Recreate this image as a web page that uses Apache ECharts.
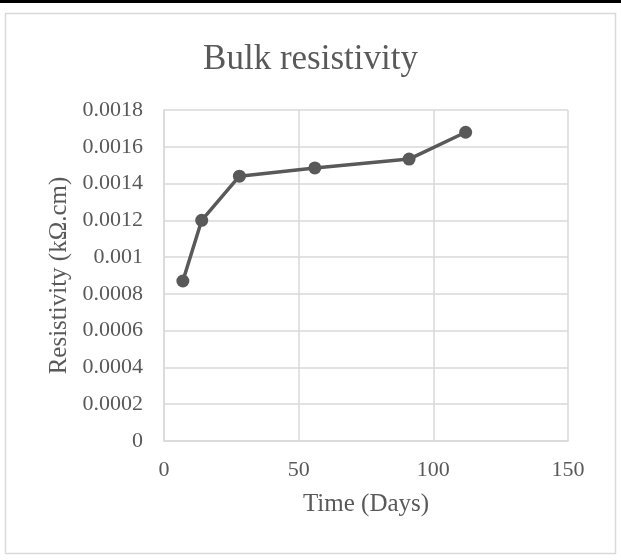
<!DOCTYPE html>
<html>
<head>
<meta charset="utf-8">
<script src="https://cdn.jsdelivr.net/npm/echarts@6/dist/echarts.min.js"></script>
<style>
html,body{margin:0;padding:0;background:#fff;}
#chart{width:621px;height:560px;}
</style>
</head>
<body>
<div id="chart"></div>
<script>
var titleText = 'Bulk resistivity';
var xName = 'Time (Days)';
var yName = 'Resistivity (k\u03A9.cm)';
var days = [7, 14, 28, 56, 91, 112];
var resistivity = [0.00087, 0.0012, 0.00144, 0.001485, 0.001533, 0.001679];
var yTicks = ['0', '0.0002', '0.0004', '0.0006', '0.0008', '0.001', '0.0012', '0.0014', '0.0016', '0.0018'];
var xTicks = ['0', '50', '100', '150'];

var font = 'Liberation Serif';
var textColor = '#595959';
var chart = echarts.init(document.getElementById('chart'), null, {renderer: 'canvas'});
chart.setOption({
  backgroundColor: '#fff',
  animation: false,
  graphic: [
    {type: 'rect', shape: {x: 0, y: 0, width: 621, height: 3}, style: {fill: '#000'}, z: 10},
    {type: 'rect', shape: {x: 5.5, y: 13.5, width: 610, height: 540}, style: {fill: 'none', stroke: '#d9d9d9', lineWidth: 1.5}, z: 10}
  ],
  title: {
    text: titleText,
    left: 'center',
    top: 37,
    textStyle: {fontFamily: font, fontSize: 35, fontWeight: 'normal', color: textColor}
  },
  grid: {left: 164, right: 53, top: 110, bottom: 119, containLabel: false},
  xAxis: {
    type: 'value',
    min: 0, max: 150, interval: 50,
    name: xName,
    nameLocation: 'middle',
    nameGap: 51,
    nameTextStyle: {fontFamily: font, fontSize: 25, color: textColor},
    axisLine: {show: true, lineStyle: {color: '#d9d9d9', width: 1.5}},
    axisTick: {show: false},
    axisLabel: {
      margin: 18,
      fontFamily: font, fontSize: 22, color: textColor,
      formatter: function (v) { return xTicks[Math.round(v / 50)]; }
    },
    splitLine: {show: true, lineStyle: {color: '#d9d9d9', width: 1.5}}
  },
  yAxis: {
    type: 'value',
    min: 0, max: 0.0018, interval: 0.0002,
    name: yName,
    nameLocation: 'middle',
    nameRotate: 90,
    nameGap: 92,
    nameTextStyle: {fontFamily: font, fontSize: 25, color: textColor},
    axisLine: {show: true, lineStyle: {color: '#d9d9d9', width: 1.5}},
    axisTick: {show: false},
    axisLabel: {
      margin: 21,
      fontFamily: font, fontSize: 22, color: textColor,
      formatter: function (v) { return yTicks[Math.round(v / 0.0002)]; }
    },
    splitLine: {show: true, lineStyle: {color: '#d9d9d9', width: 1.5}}
  },
  series: [{
    type: 'line',
    data: days.map(function (d, i) { return [d, resistivity[i]]; }),
    symbol: 'circle',
    symbolSize: 13,
    itemStyle: {color: '#595959'},
    lineStyle: {color: '#595959', width: 3.5},
    z: 5
  }]
});
</script>
</body>
</html>
